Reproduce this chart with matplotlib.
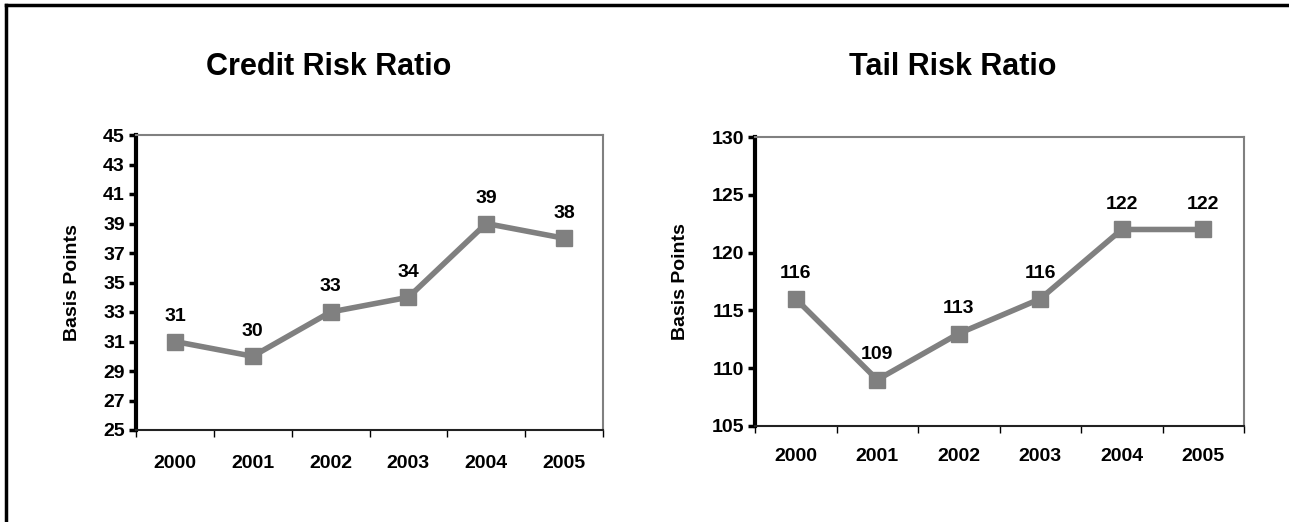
import matplotlib
matplotlib.use("Agg")
import matplotlib.pyplot as plt
from matplotlib.lines import Line2D

plt.rcParams['font.family'] = ['Liberation Sans Narrow', 'Liberation Sans', 'DejaVu Sans']
plt.rcParams['font.weight'] = 'bold'

years = ["2000", "2001", "2002", "2003", "2004", "2005"]
credit_risk = [31, 30, 33, 34, 39, 38]
tail_risk = [116, 109, 113, 116, 122, 122]

credit_ticks = [25, 27, 29, 31, 33, 35, 37, 39, 41, 43, 45]
tail_ticks = [105, 110, 115, 120, 125, 130]

W, H = 1289, 522
fig = plt.figure(figsize=(W / 100, H / 100), dpi=100)

LINE_GREY = "#808080"


def draw_panel(rect, title, values, yticks, title_x, xpad):
    ax = fig.add_axes(rect)
    x = list(range(len(years)))
    ax.plot(x, values, color=LINE_GREY, lw=4, marker="s", ms=12,
            mfc=LINE_GREY, mec=LINE_GREY, solid_joinstyle="miter")
    for xi, v in zip(x, values):
        ax.annotate(str(v), (xi, v), xytext=(0, 12), textcoords="offset points",
                    ha="center", va="bottom", fontsize=14, fontweight="bold")
    ax.set_xlim(-0.5, len(years) - 0.5)
    ax.set_ylim(yticks[0], yticks[-1])
    ax.set_yticks(yticks)
    ax.set_yticklabels([str(t) for t in yticks], fontsize=14, fontweight="bold")
    ax.set_xticks(x)
    ax.set_xticklabels(years, fontsize=14, fontweight="bold")
    ax.set_xticks([i - 0.5 for i in range(len(years) + 1)], minor=True)
    ax.tick_params(axis="x", which="major", length=0, pad=xpad)
    ax.tick_params(axis="x", which="minor", length=5, width=1, direction="out", color="black")
    ax.tick_params(axis="y", length=5, width=2.5, direction="out", color="black", pad=3)
    ax.spines["left"].set_linewidth(3)
    ax.spines["left"].set_color("black")
    ax.spines["bottom"].set_linewidth(1.5)
    ax.spines["bottom"].set_color("#222222")
    for s in ("top", "right"):
        ax.spines[s].set_linewidth(1.5)
        ax.spines[s].set_color(LINE_GREY)
    ax.set_ylabel("Basis Points", fontsize=14, fontweight="bold", labelpad=16)
    fig.text(title_x, 1 - 67 / H, title, ha="center", va="center",
             fontsize=22, fontweight="bold")
    return ax


draw_panel([136 / W, 1 - 430 / H, (603 - 136) / W, (430 - 135) / H],
           "Credit Risk Ratio", credit_risk, credit_ticks, 329 / W, 18)
draw_panel([755 / W, 1 - 426 / H, (1244 - 755) / W, (426 - 137) / H],
           "Tail Risk Ratio", tail_risk, tail_ticks, 953 / W, 16)

# frame lines along the top and left edges
fig.add_artist(Line2D([6 / W, 1], [1 - 5 / H, 1 - 5 / H], color="black", lw=2.5,
                      transform=fig.transFigure))
fig.add_artist(Line2D([6 / W, 6 / W], [0, 1 - 5 / H], color="black", lw=2.5,
                      transform=fig.transFigure))

fig.savefig("out.png", dpi=100)
